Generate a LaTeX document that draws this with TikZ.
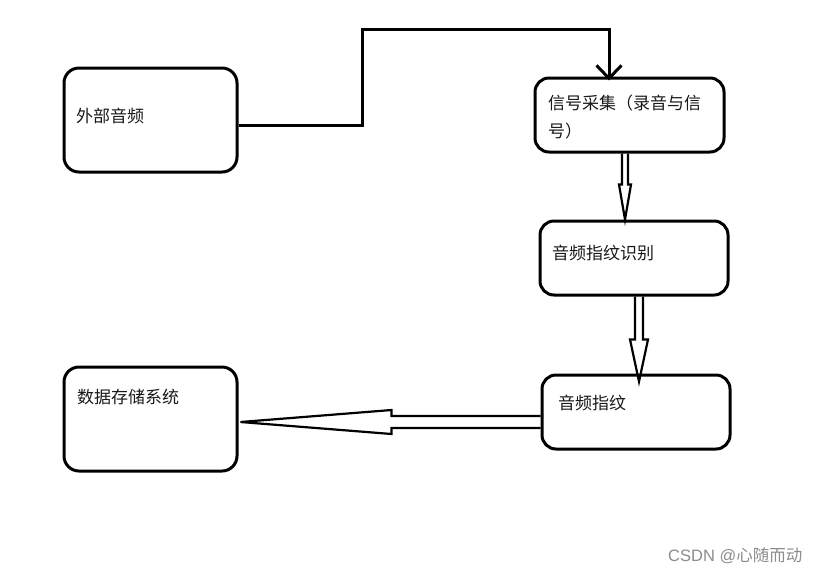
\documentclass[tikz,border=0pt]{standalone}
\usepackage{fontspec}
\setmainfont{Noto Sans CJK SC}
\newfontfamily\latwm{Liberation Sans}
\usetikzlibrary{arrows.meta,calc}
\begin{document}
\begin{tikzpicture}[x=1pt,y=-1pt,
  boxst/.style={draw=black,line width=3pt,rounded corners=15pt,inner sep=0pt},
  txt/.style={anchor=west,inner sep=0pt,font=\fontsize{17}{28}\selectfont,text=black!90},
  conn/.style={draw=black,line width=3pt},
  hollow/.style={draw=black,line width=2.2pt,line join=miter},
  wm/.style={anchor=west,inner sep=0pt,font=\fontsize{16.5}{18}\selectfont,text=black!45}]
\useasboundingbox (0,0) rectangle (819,574);
\fill[white] (0,0) rectangle (819,574);
% boxes
\node[boxst,minimum width=173pt,minimum height=104pt] (a) at (150.5,120) {};
\node[boxst,minimum width=189pt,minimum height=74pt,rounded corners=14pt] (b) at (629.5,115) {};
\node[boxst,minimum width=188pt,minimum height=74pt,rounded corners=14pt] (c) at (634,258) {};
\node[boxst,minimum width=188pt,minimum height=74pt,rounded corners=14pt] (d) at (636,412) {};
\node[boxst,minimum width=173pt,minimum height=104pt] (e) at (150.5,419) {};
% texts
\node[txt] (ta) at (76,116) {外部音频};
\node[txt,align=left] (tb) at (548,117) {信号采集（录音与信\\号）};
\node[txt] (tc) at (552,253) {音频指纹识别};
\node[txt] (td) at (558,403) {音频指纹};
\node[txt] (te) at (77,397) {数据存储系统};
\node[wm] (w) at (668,556) {{\latwm CSDN @}心随而动};
% connector a -> b
\coordinate (top) at (362,29);
\draw[conn,-{Straight Barb[length=13pt,width=25pt,line width=3pt]}]
  ([yshift=-5pt]a.east) -| (top) -| ([xshift=-20.5pt,yshift=-4pt]b.north);
% hollow arrow b -> c
\coordinate (s1) at ($(b.south)+(-4.5,0)$);
\draw[hollow] (s1) ++(-3,0) -- ++(0,31) -- ++(-3,0) -- ++(6,35) -- ++(6,-35) -- ++(-3,0) -- ++(0,-31);
% hollow arrow c -> d
\coordinate (s2) at ($(c.south)+(5,0)$);
\draw[hollow] (s2) ++(-4,0) -- ++(0,43) -- ++(-5,0) -- ++(9,42) -- ++(9,-42) -- ++(-5,0) -- ++(0,-43);
% hollow arrow d -> e
\coordinate (s3) at ($(d.west)+(0,10)$);
\draw[hollow] (s3) ++(0,-6) -- ++(-149,0) -- ++(0,-6) -- ++(-151,12) -- ++(151,12) -- ++(0,-6) -- ++(149,0);
\end{tikzpicture}
\end{document}
